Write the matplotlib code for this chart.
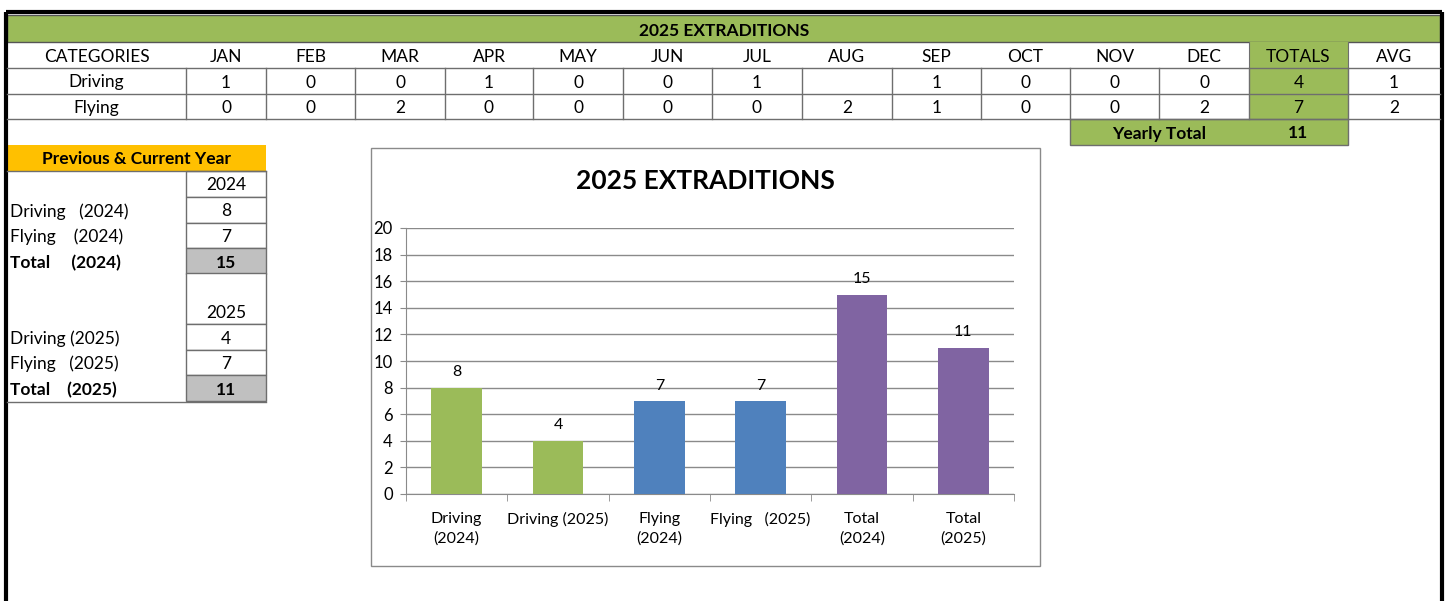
import matplotlib
matplotlib.use('Agg')
import matplotlib.pyplot as plt
from matplotlib.patches import Rectangle

plt.rcParams['font.family'] = ['Lato', 'DejaVu Sans']

# ---- monthly table data ----
months = ['JAN', 'FEB', 'MAR', 'APR', 'MAY', 'JUN', 'JUL', 'AUG', 'SEP', 'OCT', 'NOV', 'DEC']
row_names = ['Driving', 'Flying']
driving = [1, 0, 0, 1, 0, 0, 1, None, 1, 0, 0, 0]   # AUG cell is blank
flying = [0, 0, 2, 0, 0, 0, 0, 2, 1, 0, 0, 2]
totals = [4, 7]
avgs = [1, 2]
yearly_total = 11

# ---- previous & current year ----
labels_2024 = ['Driving   (2024)', 'Flying    (2024)', 'Total     (2024)']
vals_2024 = [8, 7, 15]
labels_2025 = ['Driving (2025)', 'Flying   (2025)', 'Total    (2025)']
vals_2025 = [4, 7, 11]

# ---- chart ----
chart_cats = ['Driving\n(2024)', 'Driving (2025)', 'Flying\n(2024)', 'Flying   (2025)', 'Total\n(2024)', 'Total\n(2025)']
chart_vals = [8, 4, 7, 7, 15, 11]

GREEN = '#9BBB59'
BLUE = '#4F81BD'
PURPLE = '#8064A2'
ORANGE = '#FFC000'
GREYCELL = '#C0C0C0'
LINE = '#6e6e6e'
chart_colors = [GREEN, GREEN, BLUE, BLUE, PURPLE, PURPLE]

W, H = 1445, 601
fig = plt.figure(figsize=(W / 100, H / 100), dpi=100)
bg = fig.add_axes([0, 0, 1, 1])
bg.set_xlim(0, W)
bg.set_ylim(H, 0)
bg.axis('off')

FS = 12.5
DY = 1.5  # nudge text down a little inside cells


def cell_text(x, y, s, **kw):
    kw.setdefault('ha', 'center')
    bg.text(x, y + DY, s, va='center', fontsize=FS, **kw)


# outer frame
bg.plot([6, 6], [H, 12], color='black', lw=3, solid_capstyle='butt')
bg.plot([6, 1442], [12, 12], color='black', lw=3, solid_capstyle='butt')
bg.plot([1442, 1442], [12, H], color='black', lw=3, solid_capstyle='butt')

# title band
bg.add_patch(Rectangle((7, 15), 1433, 27, fc=GREEN, ec='#555555', lw=1))
cell_text(724, 29, '2025 EXTRADITIONS', fontweight='bold')

# column layout
col_edges = [7, 186, 266, 355, 445, 533, 623, 712, 802, 892, 981, 1070, 1159, 1249, 1348, 1440]
centers = [(a + b) / 2 for a, b in zip(col_edges[:-1], col_edges[1:])]
row_y = [55, 81, 106.5]

# totals column fill
bg.add_patch(Rectangle((1249, 42), 99, 77, fc=GREEN, ec='none'))

header = ['CATEGORIES'] + months + ['TOTALS', 'AVG']
for cx, h in zip(centers, header):
    cell_text(cx, row_y[0], h)

rows = [driving, flying]
for r, (name, vals) in enumerate(zip(row_names, rows)):
    cells = [name] + ['' if v is None else str(v) for v in vals] + [str(totals[r]), str(avgs[r])]
    for cx, c in zip(centers, cells):
        cell_text(cx, row_y[r + 1], c)

for y in [68, 94, 119]:
    bg.plot([7, 1440], [y, y], color=LINE, lw=1)
for x in col_edges[1:-1]:
    bg.plot([x, x], [68, 119], color=LINE, lw=1)
bg.plot([1249, 1249], [42, 68], color=LINE, lw=0.8)
bg.plot([1348, 1348], [42, 68], color=LINE, lw=0.8)

# yearly total row
bg.add_patch(Rectangle((1070, 119), 278, 26, fc=GREEN, ec=LINE, lw=1))
cell_text(1159.5, 132, 'Yearly Total', fontweight='bold')
cell_text(1298.5, 132, str(yearly_total), fontweight='bold')

# previous & current year table
bg.add_patch(Rectangle((7, 145), 259, 26, fc=ORANGE, ec='none'))
cell_text(136, 158, 'Previous & Current Year', fontweight='bold')
bg.plot([7, 266], [171, 171], color=LINE, lw=1)


def year_block(top, head_h, year, labels, vals):
    bg.add_patch(Rectangle((186, top), 80, head_h, fc='white', ec=LINE, lw=1))
    cell_text(226, top + head_h - 13, year)
    y0 = top + head_h
    for i, (lab, v) in enumerate(zip(labels, vals)):
        bold = i == len(labels) - 1
        fc = GREYCELL if bold else 'white'
        fw = 'bold' if bold else 'normal'
        bg.add_patch(Rectangle((186, y0 + i * 25.7), 80, 25.7, fc=fc, ec=LINE, lw=1))
        cell_text(226, y0 + i * 25.7 + 13, str(v), fontweight=fw)
        cell_text(10, y0 + i * 25.7 + 13, lab, ha='left', fontweight=fw)


year_block(171, 26, '2024', labels_2024, vals_2024)
year_block(273, 51, '2025', labels_2025, vals_2025)
bg.plot([7, 266], [402, 402], color=LINE, lw=1)

# chart frame
bg.add_patch(Rectangle((371, 148), 669, 418, fc='white', ec='#8a8a8a', lw=1))
bg.text(705, 181, '2025 EXTRADITIONS', ha='center', va='center', fontsize=19, fontweight='bold')

ax = fig.add_axes([406 / W, 1 - 494 / H, (1014 - 406) / W, (494 - 228) / H])
ax.set_facecolor('none')
xs = list(range(len(chart_vals)))
bars = ax.bar(xs, chart_vals, width=0.5, color=chart_colors, zorder=3)
ax.bar_label(bars, padding=6, fontsize=11.5)
ax.set_xlim(-0.5, len(chart_vals) - 0.5)
ax.set_ylim(0, 20)
ax.set_yticks(range(0, 21, 2))
ax.yaxis.grid(True, color='#8a8a8a', lw=1, zorder=0)
ax.set_xticks(xs)
ax.set_xticklabels(chart_cats, fontsize=11.5, linespacing=1.45)
ax.set_xticks([i - 0.5 for i in range(len(chart_vals) + 1)], minor=True)
ax.tick_params(axis='x', which='major', length=0, pad=13)
ax.tick_params(axis='x', which='minor', length=5, color='#8a8a8a', direction='out')
ax.tick_params(axis='y', length=4.5, color='#8a8a8a', labelsize=12, pad=5)
for s in ['top', 'right']:
    ax.spines[s].set_visible(False)
ax.spines['left'].set_color('#8a8a8a')
ax.spines['bottom'].set_color('#8a8a8a')

fig.savefig('out.png', dpi=100)
